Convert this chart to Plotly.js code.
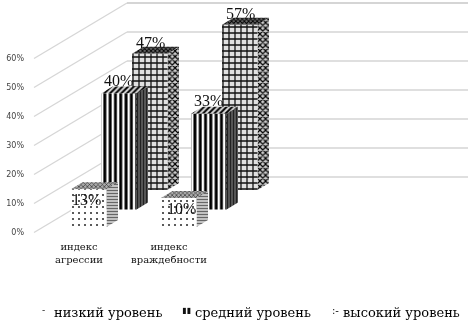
<!DOCTYPE html>
<html><head><meta charset="utf-8">
<script src="https://cdn.plot.ly/plotly-3.0.1.min.js"></script>
<style>html,body{margin:0;padding:0;background:#fff}#c{width:468px;height:322px;filter:blur(0.35px)}</style>
</head><body><div id="c"></div>
<script>
const categories = ['индекс<br>агрессии', 'индекс<br>враждебности'];
const seriesNames = ['низкий уровень', 'средний уровень', 'высокий уровень'];
const low = [13, 10];
const medium = [40, 33];
const high = [47, 57];
const yTicks = [0, 10, 20, 30, 40, 50, 60];
const yTickLabels = ['0%', '10%', '20%', '30%', '40%', '50%', '60%'];

// oblique projection of the 3-D bar scene onto the 2-D axes
const PXX = 90, PXY = 2.9, L = 28, R = 468, B = 239;
const px = v => v / PXX, py = v => v / PXY;
const zero = 79, zeroY = 232.5;
const shiftX = [-8, 22, 53], baseY = [5.5, 23, 42.5];
const W = 35.5, DX = 11.5, DY = 7;
const P = (c, s, v, u, d) => [c + px(shiftX[s] + u * W + d * DX), v + py(baseY[s] + d * DY)];

const styles = [
  {front:{shape:'.',fgcolor:'#333',bgcolor:'#fff',size:6,solidity:.1},
   side:{shape:'-',fgcolor:'#666',bgcolor:'#ccc',size:3,solidity:.4},
   top:{shape:'x',fgcolor:'#333',bgcolor:'#aaa',size:3,solidity:.4}},
  {front:{shape:'|',fgcolor:'#000',bgcolor:'#fff',size:5.3,solidity:.55},
   side:{shape:'|',fgcolor:'#222',bgcolor:'#666',size:3,solidity:.5},
   top:{shape:'/',fgcolor:'#000',bgcolor:'#ddd',size:4,solidity:.5}},
  {front:{shape:'+',fgcolor:'#111',bgcolor:'#e0e0e0',size:6,solidity:.38},
   side:{shape:'x',fgcolor:'#000',bgcolor:'#ccc',size:4,solidity:.5},
   top:{shape:'x',fgcolor:'#000',bgcolor:'#666',size:3,solidity:.5}}
];
const values = [low, medium, high];
const traces = [];

// back wall and side wall gridlines
const gridLine = (xs, ys, color, w) => traces.push({type:'scatter', mode:'lines', x:xs, y:ys,
  line:{color, width:w}, hoverinfo:'skip', showlegend:false, cliponaxis:false});
const dRise = py(55.5), x0 = (34 - zero) / PXX, x1 = (127 - zero) / PXX, x2 = (R - zero) / PXX;
yTicks.forEach(t => {
  gridLine([x0, x1], [t, t + dRise], '#d6d6d6', 1.3);
  gridLine([x1, x2], [t + dRise, t + dRise], t === 60 ? '#ababab' : '#d4d4d4', t === 60 ? 1.2 : 1.5);
});

const face = (pts, pat, name) => {
  const c = pts.concat([pts[0]]);
  traces.push({type:'scatter', mode:'lines', x:c.map(p => p[0]), y:c.map(p => p[1]),
    fill:'toself', fillcolor:pat.bgcolor, fillpattern:pat, line:{color:'rgba(0,0,0,0)', width:0},
    hoverinfo:'skip', showlegend:false, name, cliponaxis:false});
};

// back to front: high series, then medium, then low
[2, 1, 0].forEach(s => {
  categories.forEach((_, c) => {
    const v = values[s][c], st = styles[s], n = seriesNames[s];
    face([P(c,s,v,1,0), P(c,s,v,1,1), P(c,s,0,1,1), P(c,s,0,1,0)], st.side, n);
    face([P(c,s,v,0,0), P(c,s,v,0,1), P(c,s,v,1,1), P(c,s,v,1,0)], st.top, n);
    face([P(c,s,0,0,0), P(c,s,v,0,0), P(c,s,v,1,0), P(c,s,0,1,0)], st.front, n);
  });
});

// value labels
const labelLift = [-12, 12, 10];
const lx = [], ly = [], lt = [];
[0, 1, 2].forEach(s => categories.forEach((_, c) => {
  const v = values[s][c], p = P(c, s, v, .5, 0);
  lx.push(p[0] + px(s === 0 ? (c ? 3 : -2) : (s === 1 ? 0 : 1)));
  ly.push(p[1] + py(labelLift[s]));
  lt.push(v + '%');
}));
traces.push({type:'scatter', mode:'text', x:lx, y:ly, text:lt, textposition:'middle center',
  textfont:{family:'Liberation Serif', size:16, color:'#111'}, hoverinfo:'skip', showlegend:false, cliponaxis:false});

// legend
const pap = (x, y) => ({xref:'paper', yref:'paper', x:(x - L) / (R - L), y:(B - y) / B});
const legendX = [52, 193, 341], swX = [43, 186, 335], swT = ['-', '▮▮', ':-'], swS = [9, 8, 10];
const annotations = [];
seriesNames.forEach((n, i) => {
  annotations.push(Object.assign(pap(legendX[i], 312), {text:n, showarrow:false, xanchor:'left', yanchor:'middle',
    font:{family:'DejaVu Serif', size:13, color:'#000'}}));
  annotations.push(Object.assign(pap(swX[i], 310), {text:swT[i], showarrow:false, xanchor:'center', yanchor:'middle',
    font:{family:'DejaVu Sans', size:swS[i], color:'#111'}}));
});

Plotly.newPlot('c', traces, {
  width:468, height:322, paper_bgcolor:'#fff', plot_bgcolor:'#fff', showlegend:false,
  margin:{l:L, r:0, t:0, b:322 - B, pad:0},
  xaxis:{range:[(L - zero) / PXX, (R - zero) / PXX], showgrid:false, zeroline:false, showline:false, ticks:'',
    tickmode:'array', tickvals:categories.map((_, i) => i), ticktext:categories,
    tickangle:0, tickfont:{family:'DejaVu Serif', size:10, color:'#111'}},
  yaxis:{range:[(zeroY - B) / PXY, zeroY / PXY], showgrid:false, zeroline:false, showline:false, ticks:'',
    tickmode:'array', tickvals:yTicks, ticktext:yTickLabels, ticklabelstandoff:3,
    tickfont:{family:'DejaVu Sans', size:8, color:'#444'}},
  annotations
}, {displayModeBar:false, staticPlot:true});
</script></body></html>
